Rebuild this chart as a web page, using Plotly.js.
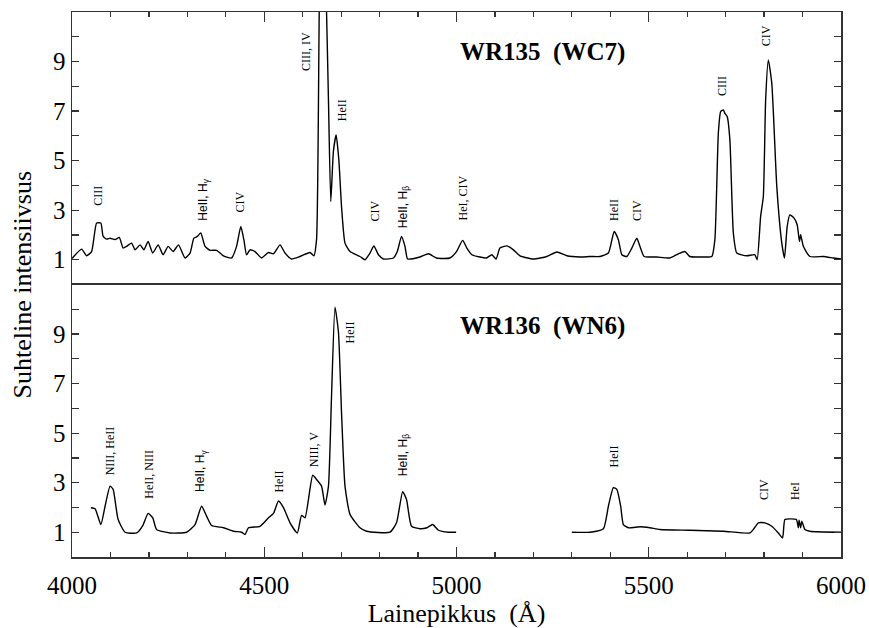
<!DOCTYPE html>
<html>
<head>
<meta charset="utf-8">
<script src="https://cdn.plot.ly/plotly-3.0.1.min.js"></script>
<style>html,body{margin:0;padding:0;background:#fff;}#chart{width:869px;height:628px;}</style>
</head>
<body>
<div id="chart"></div>
<script>
// WR135 (WC7) spectrum
const wr135Wave = [
  4000,4025,4038,4051,4064,4075,4081,4090,4099,4112,
  4123,4133,4142,4155,4164,4177,4187,4198,4210,4224,
  4237,4250,4263,4277,4294,4307,4317,4326,4335,4346,
  4359,4376,4394,4415,4428,4439,4447,4454,4463,4476,
  4493,4511,4524,4541,4554,4571,4593,4619,4629,4636,
  4643,4648,4655,4662,4667,4673,4680,4687,4694,4701,
  4710,4723,4749,4762,4775,4785,4797,4810,4836,4846,
  4857,4866,4873,4905,4927,4948,4983,5000,5016,5027,
  5040,5061,5078,5092,5103,5113,5131,5148,5165,5200,
  5235,5261,5287,5321,5347,5373,5395,5410,5421,5430,
  5443,5456,5469,5477,5488,5521,5555,5577,5594,5607,
  5642,5664,5672,5681,5687,5694,5698,5704,5711,5720,
  5729,5755,5776,5782,5791,5798,5804,5811,5820,5833,
  5846,5853,5860,5867,5878,5886,5892,5895,5902,5919,
  5954,5980,6000];
const wr135Flux = [
  1.05,1.43,1.16,1.33,2.48,2.48,1.94,1.83,1.87,1.81,
  1.90,1.47,1.54,1.67,1.40,1.60,1.40,1.74,1.27,1.60,
  1.20,1.54,1.33,1.60,1.07,1.27,1.87,1.94,2.08,1.54,
  1.38,1.38,1.16,1.07,1.54,2.34,1.81,1.20,1.40,1.33,
  1.07,1.29,1.24,1.60,1.27,1.03,1.13,1.29,1.16,1.81,
  11.0,15.0,15.0,11.0,7.45,3.35,5.40,6.04,5.03,3.15,
  1.67,1.33,1.13,1.00,1.27,1.56,1.20,1.03,1.07,1.33,
  1.94,1.54,1.03,1.11,1.24,1.07,1.07,1.33,1.78,1.47,
  1.20,1.11,1.07,1.20,1.03,1.47,1.56,1.40,1.16,1.03,
  1.13,1.31,1.16,1.11,1.13,1.13,1.27,2.14,1.81,1.20,
  1.13,1.47,1.87,1.54,1.13,1.11,1.07,1.24,1.33,1.13,
  1.11,1.13,1.81,6.11,6.98,7.05,6.91,6.78,5.84,2.08,
  1.27,1.16,1.20,1.00,2.75,3.55,7.45,9.06,8.12,3.96,
  1.67,1.07,2.34,2.81,2.68,2.41,1.74,2.01,1.54,1.13,
  1.13,1.07,1.03];

// WR136 (WN6) spectrum, blue part
const wr136BlueWave = [
  4049,4060,4075,4086,4099,4107,4120,4138,4168,4184,
  4198,4210,4220,4255,4298,4320,4337,4350,4363,4394,
  4420,4441,4450,4459,4489,4511,4524,4537,4550,4567,
  4586,4597,4606,4626,4636,4649,4658,4667,4675,4684,
  4693,4701,4710,4723,4749,4766,4827,4844,4860,4870,
  4883,4905,4923,4938,4953,4979,4999];
const wr136BlueFlux = [
  1.99,1.95,1.31,2.05,2.86,2.73,1.51,1.00,0.97,1.27,
  1.76,1.58,1.11,0.97,1.00,1.31,2.05,1.65,1.27,1.18,
  1.04,1.00,0.91,1.18,1.24,1.58,1.76,2.26,1.99,1.38,
  0.97,1.68,1.58,3.30,3.13,2.86,2.10,2.86,6.51,10.08,
  9.07,5.83,2.86,1.72,1.18,1.04,1.00,1.38,2.64,2.32,
  1.24,1.14,1.18,1.31,1.08,1.00,1.00];

// WR136 (WN6) spectrum, red part
const wr136RedWave = [
  5300,5347,5382,5395,5408,5417,5427,5434,5447,5477,
  5503,5529,5607,5694,5763,5772,5785,5802,5820,5837,
  5848,5854,5867,5884,5889,5891,5895,5898,5906,5919,
  6000];
const wr136RedFlux = [
  1.00,1.00,1.14,2.05,2.80,2.73,2.05,1.31,1.18,1.22,
  1.18,1.11,1.08,1.04,0.97,1.11,1.38,1.38,1.24,0.97,
  0.77,1.51,1.54,1.51,1.18,1.49,1.18,1.45,1.11,1.04,
  1.00];

// Line identifications
const topLabels = ['CIII','HeII, H<sub>γ</sub>','CIV','CIII, IV','HeII','CIV','HeII, H<sub>β</sub>','HeI, CIV','HeII','CIV','CIII','CIV'];
const topLabelWave = [4068,4341,4437,4610,4703,4788,4862,5018,5408,5469,5690,5804];
const topLabelLevel = [3.1,2.5,2.81,8.54,6.52,2.48,2.21,2.5,2.5,2.5,7.52,9.54];
const topLabelSans = [0,1,0,0,0,0,1,0,0,0,0,0];

const botLabels = ['NIII, HeII','HeII, NIII','HeII, H<sub>γ</sub>','HeII','NIII, V','HeII','HeII, H<sub>β</sub>','HeII','CIV','HeI'];
const botLabelWave = [4099,4198,4337,4539,4628,4723,4862,5410,5798,5880];
const botLabelLevel = [3.2,2.26,2.53,2.53,3.54,8.54,3.2,3.54,2.21,2.21];
const botLabelSans = [0,0,1,0,0,0,1,0,0,0];

const starNames = ['WR135\u00a0 (WC7)', 'WR136\u00a0 (WN6)'];
const xTickVals = [4000,4500,5000,5500,6000];
const yTickVals = [1,3,5,7,9];
const yMinorVals = [2,4,6,8,10];

const SERIF = 'Liberation Serif, Times New Roman, serif';
const SANS = 'Liberation Sans, Arial, sans-serif';
const AX = '#333';

const lineStyle = {color:'#000', width:1.4, shape:'spline', smoothing:0.5};
const traces = [
  {x: wr135Wave, y: wr135Flux, xaxis:'x2', yaxis:'y2', mode:'lines', line: lineStyle, hoverinfo:'skip'},
  {x: wr136BlueWave, y: wr136BlueFlux, xaxis:'x', yaxis:'y', mode:'lines', line: lineStyle, hoverinfo:'skip'},
  {x: wr136RedWave, y: wr136RedFlux, xaxis:'x', yaxis:'y', mode:'lines', line: lineStyle, hoverinfo:'skip'}
];

const annotations = [];
topLabels.forEach((t,i)=>annotations.push({
  text:t, x:topLabelWave[i], y:topLabelLevel[i], xref:'x2', yref:'y2',
  xanchor:'center', yanchor:'bottom', textangle:-90, showarrow:false,
  font:{family: topLabelSans[i] ? SANS : SERIF, size:12, color:'#000'}
}));
botLabels.forEach((t,i)=>annotations.push({
  text:t, x:botLabelWave[i], y:botLabelLevel[i], xref:'x', yref:'y',
  xanchor:'center', yanchor:'bottom', textangle:-90, showarrow:false,
  font:{family: botLabelSans[i] ? SANS : SERIF, size:12, color:'#000'}
}));
annotations.push({text:'<b>'+starNames[0]+'</b>', x:5004, y:9.39, xref:'x2', yref:'y2',
  xanchor:'left', yanchor:'middle', showarrow:false, font:{family:SERIF, size:25, color:'#000'}});
annotations.push({text:'<b>'+starNames[1]+'</b>', x:5004, y:9.33, xref:'x', yref:'y',
  xanchor:'left', yanchor:'middle', showarrow:false, font:{family:SERIF, size:25, color:'#000'}});
annotations.push({text:'Suhteline intensiivsus', x:0, y:0.5, xref:'paper', yref:'paper',
  xanchor:'center', yanchor:'middle', xshift:-50, textangle:-90, showarrow:false,
  font:{family:SERIF, size:26, color:'#000'}});

const yCommon = {
  range:[0,11], tickvals:yTickVals, ticks:'inside', ticklen:7, tickwidth:1.2, tickcolor:AX,
  minor:{tickvals:yMinorVals, ticks:'inside', ticklen:7, tickwidth:1.2, tickcolor:AX},
  showline:true, linecolor:AX, linewidth:1.5, mirror:'ticks',
  showgrid:false, zeroline:false, fixedrange:true,
  tickfont:{family:SERIF, size:25, color:'#000'}
};

const layout = {
  width:869, height:628,
  margin:{l:72, r:28, t:12, b:71},
  paper_bgcolor:'#fff', plot_bgcolor:'#fff',
  showlegend:false,
  xaxis:{
    domain:[0,1], anchor:'y', range:[4000,6000], tickvals:xTickVals,
    ticks:'inside', ticklen:10, tickwidth:1.2, tickcolor:AX,
    minor:{dtick:100, tick0:4000, ticks:'inside', ticklen:5, tickwidth:1.2, tickcolor:AX},
    showline:true, linecolor:AX, linewidth:1.5, mirror:true,
    showgrid:false, zeroline:false,
    ticklabelstandoff:5,
    tickfont:{family:SERIF, size:25, color:'#000'},
    title:{text:'Lainepikkus\u00a0 (Å)', font:{family:SERIF, size:26, color:'#000'}, standoff:6}
  },
  xaxis2:{
    domain:[0,1], anchor:'y2', side:'top', matches:'x', range:[4000,6000], tickvals:xTickVals,
    ticks:'inside', ticklen:10, tickwidth:1.2, tickcolor:AX,
    minor:{dtick:100, tick0:4000, ticks:'inside', ticklen:5, tickwidth:1.2, tickcolor:AX},
    showline:true, linecolor:AX, linewidth:1.5, mirror:false,
    showticklabels:false, showgrid:false, zeroline:false
  },
  yaxis: Object.assign({domain:[0,0.5], anchor:'x'}, yCommon),
  yaxis2: Object.assign({domain:[0.5,1], anchor:'x2'}, yCommon),
  annotations: annotations
};

Plotly.newPlot('chart', traces, layout, {staticPlot:true});
</script>
</body>
</html>
